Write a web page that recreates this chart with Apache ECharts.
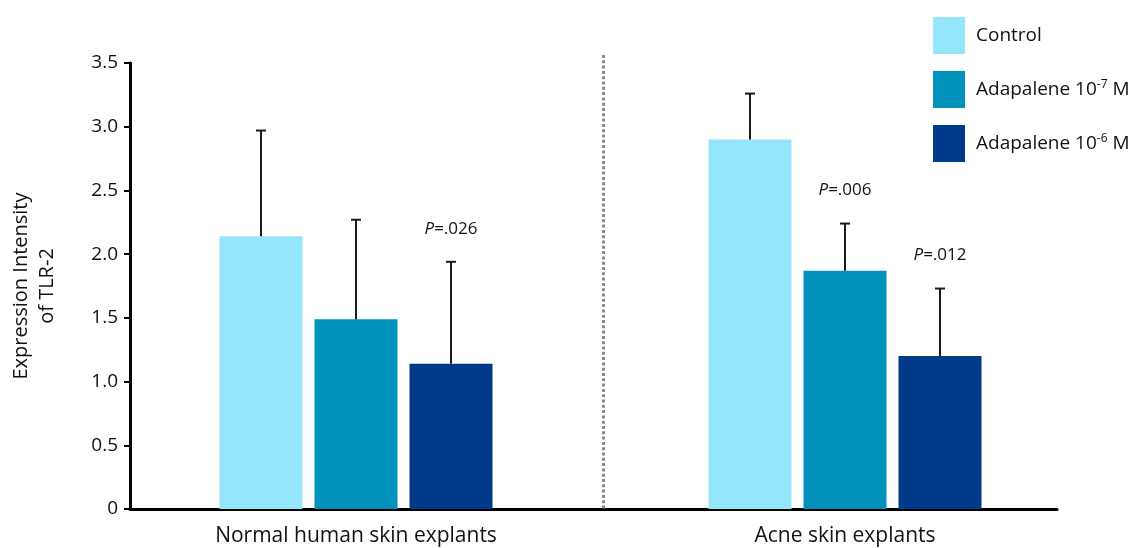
<!DOCTYPE html>
<html>
<head>
<meta charset="utf-8">
<script src="https://cdn.jsdelivr.net/npm/echarts@6/dist/echarts.min.js"></script>
<style>
html,body{margin:0;padding:0;background:#fff;}
#chart{width:1145px;height:548px;}
</style>
</head>
<body>
<div id="chart"></div>
<script>
// ---- data ----
const categories = ['Normal human skin explants', 'Acne skin explants'];
const seriesNames = ['Control', 'Adapalene 10-7 M', 'Adapalene 10-6 M'];
const controlValues = [2.14, 2.90];
const adap7Values = [1.49, 1.87];
const adap6Values = [1.14, 1.20];
const controlErrors = [0.83, 0.36];
const adap7Errors = [0.78, 0.37];
const adap6Errors = [0.80, 0.53];
const controlP = ['', ''];
const adap7P = ['', '.006'];
const adap6P = ['.026', '.012'];
const yTicks = [0, 0.5, 1.0, 1.5, 2.0, 2.5, 3.0, 3.5];

// ---- style ----
const FONT = '"Open Sans", "Noto Sans", sans-serif';
const colors = ['#94E6FC', '#0092BB', '#003A88'];
const BAR_W = 83, BAR_GAP = 12;

const values = [controlValues, adap7Values, adap6Values];
const errors = [controlErrors, adap7Errors, adap6Errors];
const pvals = [controlP, adap7P, adap6P];

const chart = echarts.init(document.getElementById('chart'), null, {renderer: 'canvas'});

const barSeries = seriesNames.map((name, i) => ({
  name: name,
  type: 'bar',
  xAxisIndex: 0, yAxisIndex: 0,
  barWidth: BAR_W,
  barGap: (BAR_GAP / BAR_W * 100) + '%',
  itemStyle: {color: colors[i]},
  data: values[i],
  z: 2
}));

const errSeries = seriesNames.map((name, i) => ({
  name: 'err' + i,
  type: 'custom',
  xAxisIndex: 0, yAxisIndex: 0,
  z: 5,
  silent: true,
  data: values[i].map((v, c) => [c, v, v + errors[i][c]]),
  renderItem: function (params, api) {
    const c = api.value(0), v = api.value(1), top = api.value(2);
    const p = pvals[i][c];
    const base = api.coord([c, v]);
    const tp = api.coord([c, top]);
    const x = base[0] + (i - 1) * (BAR_W + BAR_GAP);
    const style = {stroke: '#1a1a1a', lineWidth: 2};
    const children = [
      {type: 'line', shape: {x1: x, y1: base[1], x2: x, y2: tp[1]}, style: style},
      {type: 'line', shape: {x1: x - 5, y1: tp[1], x2: x + 5, y2: tp[1]}, style: style}
    ];
    if (p) {
      children.push({
        type: 'text',
        x: x, y: tp[1] - 33,
        style: {
          text: '{i|P}{n|=' + p + '}',
          align: 'center', verticalAlign: 'middle',
          rich: {
            i: {fontStyle: 'italic', fontSize: 17, fontFamily: FONT, fill: '#111'},
            n: {fontSize: 17, fontFamily: FONT, fill: '#111'}
          }
        }
      });
    }
    return {type: 'group', children: children};
  }
}));

const sepSeries = {
  name: 'sep',
  type: 'custom',
  xAxisIndex: 0, yAxisIndex: 0,
  silent: true,
  z: 1,
  data: [[0]],
  renderItem: function (params, api) {
    const a = api.coord([0, 0]);
    const b = api.coord([1, 0]);
    const t = api.coord([0, yTicks[yTicks.length - 1]]);
    const x = (a[0] + b[0]) / 2 + 3;
    return {
      type: 'line',
      shape: {x1: x, y1: t[1] - 8, x2: x, y2: a[1]},
      style: {stroke: '#8a8a8a', lineWidth: 3, lineDash: [3, 2.3]}
    };
  }
};

const legendRich = {
  a: {fontSize: 19, fontFamily: FONT, color: '#111', lineHeight: 24},
  s: {fontSize: 12, fontFamily: FONT, color: '#111', lineHeight: 24, padding: [0, 0, 9, 0]}
};

chart.setOption({
  animation: false,
  backgroundColor: '#ffffff',
  grid: [
    {left: 111.5, width: 978, top: 63, bottom: 39},
    {left: 129, width: 928, top: 63, bottom: 39}
  ],
  legend: {
    data: seriesNames,
    orient: 'vertical',
    left: 928, top: 12,
    itemWidth: 32, itemHeight: 37,
    itemGap: 17,
    icon: 'rect',
    selectedMode: false,
    textStyle: {fontSize: 19, fontFamily: FONT, color: '#111', padding: [0, 0, 0, 6], rich: legendRich},
    formatter: function (name) {
      const m = name.match(/^(.*10)(-\d)( M)$/);
      if (m) return '{a|' + m[1] + '}{s|' + m[2] + '}{a|' + m[3] + '}';
      return '{a|' + name + '}';
    }
  },
  xAxis: [
    {
      type: 'category', gridIndex: 0, data: categories,
      axisLine: {show: false}, axisTick: {show: false},
      axisLabel: {fontSize: 21, fontFamily: FONT, color: '#111', margin: 17}
    },
    {
      type: 'value', gridIndex: 1, min: 0, max: 1,
      axisLine: {show: true, lineStyle: {color: '#000', width: 3}},
      axisTick: {show: false}, axisLabel: {show: false}, splitLine: {show: false}
    }
  ],
  yAxis: [
    {type: 'value', gridIndex: 0, min: yTicks[0], max: yTicks[yTicks.length - 1], show: false, splitLine: {show: false}},
    {
      type: 'value', gridIndex: 1,
      min: yTicks[0], max: yTicks[yTicks.length - 1], interval: yTicks[1] - yTicks[0],
      name: 'Expression Intensity\nof TLR-2',
      nameLocation: 'middle', nameRotate: 90, nameGap: 70,
      nameTextStyle: {fontSize: 20, fontFamily: FONT, color: '#111', lineHeight: 26},
      axisLine: {show: true, lineStyle: {color: '#000', width: 3}},
      axisTick: {show: true, length: 6, lineStyle: {color: '#000', width: 2}},
      axisLabel: {
        fontSize: 19, fontFamily: FONT, color: '#111', margin: 12,
        formatter: v => (v === 0 ? '0' : v.toFixed(1))
      },
      splitLine: {show: false}
    }
  ],
  series: [sepSeries].concat(barSeries, errSeries)
});
</script>
</body>
</html>
